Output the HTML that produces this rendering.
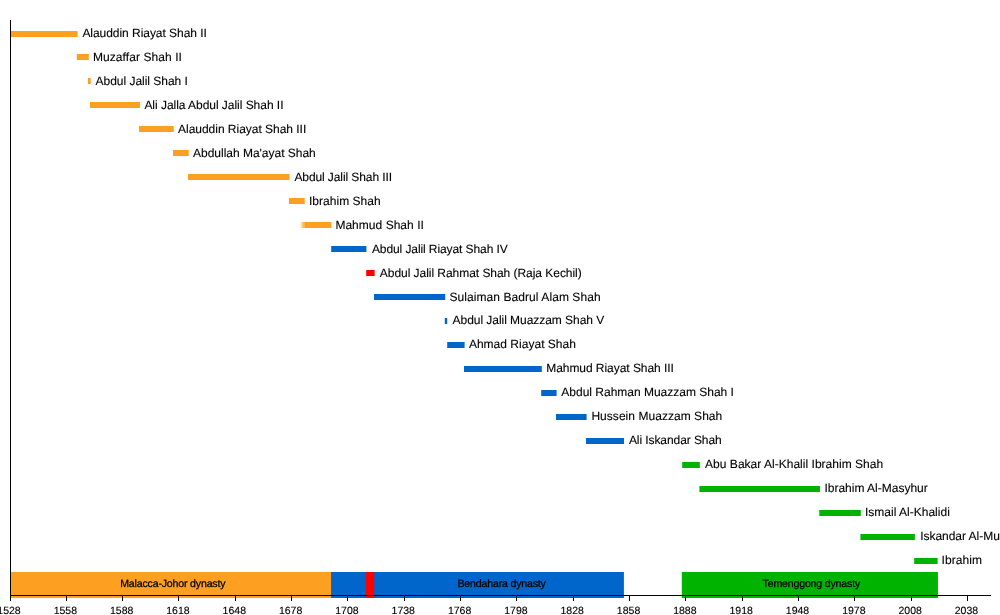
<!DOCTYPE html>
<html><head><meta charset="utf-8"><title>Sultans of Johor timeline</title>
<style>
html,body{margin:0;padding:0;background:#fff;}
body{width:1000px;height:615px;overflow:hidden;}
svg{display:block;will-change:transform;filter:blur(0.35px);}
text{font-family:"Liberation Sans",Arial,sans-serif;text-rendering:geometricPrecision;}
.l{font-size:12px;letter-spacing:0px;fill:#000;stroke:#000;stroke-width:0.12px;}
.t{font-size:10.5px;letter-spacing:0px;fill:#000;stroke:#000;stroke-width:0.12px;text-anchor:middle;}
.d{font-size:10.6px;letter-spacing:-0.18px;fill:#000;stroke:#000;stroke-width:0.25px;text-anchor:middle;}
</style></head><body>
<svg width="1000" height="615" viewBox="0 0 1000 615">
<defs><linearGradient id="fade" x1="0" x2="1" y1="0" y2="0">
<stop offset="0" stop-color="#FDA021" stop-opacity="0"/><stop offset="1" stop-color="#FDA021" stop-opacity="1"/></linearGradient></defs>

<rect x="10.00" y="572.00" width="321.04" height="26.00" fill="#FDA021"/>
<rect x="331.04" y="572.00" width="292.87" height="26.00" fill="#0066CC"/>
<rect x="366.01" y="572.00" width="8.21" height="26.00" fill="#FF0000"/>
<rect x="681.81" y="572.00" width="256.13" height="26.00" fill="#00B300"/>
<text class="d" x="172.8" y="587">Malacca-Johor dynasty</text>
<text class="d" x="501.6" y="587">Bendahara dynasty</text>
<text class="d" x="811.3" y="587">Temenggong dynasty</text>
<rect x="11.00" y="31.00" width="66.60" height="6.00" fill="#FDA021"/>
<text class="l" x="82.4" y="37.0" style="letter-spacing:-0.045px">Alauddin Riayat Shah II</text>
<rect x="76.80" y="54.00" width="12.00" height="6.00" fill="#FDA021"/>
<text class="l" x="92.9" y="60.8" style="letter-spacing:0.08px">Muzaffar Shah II</text>
<rect x="88.00" y="78.00" width="2.70" height="6.00" fill="#FDA021"/>
<text class="l" x="95.6" y="84.8" style="letter-spacing:-0.029px">Abdul Jalil Shah I</text>
<rect x="90.00" y="102.00" width="50.00" height="6.00" fill="#FDA021"/>
<text class="l" x="144.4" y="108.8" style="letter-spacing:-0.036px">Ali Jalla Abdul Jalil Shah II</text>
<rect x="139.00" y="126.00" width="34.75" height="6.00" fill="#FDA021"/>
<text class="l" x="178.0" y="132.8" style="letter-spacing:-0.022px">Alauddin Riayat Shah III</text>
<rect x="173.00" y="150.00" width="15.75" height="6.00" fill="#FDA021"/>
<text class="l" x="193.0" y="156.8" style="letter-spacing:-0.013px">Abdullah Ma'ayat Shah</text>
<rect x="188.00" y="174.00" width="101.50" height="6.00" fill="#FDA021"/>
<text class="l" x="294.4" y="180.8" style="letter-spacing:-0.092px">Abdul Jalil Shah III</text>
<rect x="289.00" y="198.00" width="15.75" height="6.00" fill="#FDA021"/>
<text class="l" x="309.0" y="204.8" style="letter-spacing:0.027px">Ibrahim Shah</text>
<rect x="299.75" y="222.00" width="5.00" height="6.00" fill="url(#fade)"/>
<rect x="304.75" y="222.00" width="26.65" height="6.00" fill="#FDA021"/>
<text class="l" x="335.4" y="228.8" style="letter-spacing:0.031px">Mahmud Shah II</text>
<rect x="331.20" y="246.00" width="35.20" height="6.00" fill="#0066CC"/>
<text class="l" x="371.9" y="252.8" style="letter-spacing:-0.088px">Abdul Jalil Riayat Shah IV</text>
<rect x="366.20" y="270.00" width="8.40" height="6.00" fill="#FF0000"/>
<text class="l" x="379.8" y="276.8" style="letter-spacing:-0.042px">Abdul Jalil Rahmat Shah (Raja Kechil)</text>
<rect x="374.00" y="294.00" width="71.20" height="6.00" fill="#0066CC"/>
<text class="l" x="449.4" y="300.8" style="letter-spacing:0.075px">Sulaiman Badrul Alam Shah</text>
<rect x="444.80" y="318.00" width="2.40" height="6.00" fill="#0066CC"/>
<text class="l" x="452.6" y="324.0" style="letter-spacing:-0.044px">Abdul Jalil Muazzam Shah V</text>
<rect x="447.20" y="342.00" width="17.40" height="6.00" fill="#0066CC"/>
<text class="l" x="468.9" y="348.0" style="letter-spacing:0.019px">Ahmad Riayat Shah</text>
<rect x="464.00" y="366.00" width="77.80" height="6.00" fill="#0066CC"/>
<text class="l" x="546.2" y="372.0" style="letter-spacing:-0.048px">Mahmud Riayat Shah III</text>
<rect x="541.20" y="390.00" width="15.40" height="6.00" fill="#0066CC"/>
<text class="l" x="561.3" y="396.0" style="letter-spacing:-0.004px">Abdul Rahman Muazzam Shah I</text>
<rect x="556.00" y="414.00" width="30.60" height="6.00" fill="#0066CC"/>
<text class="l" x="591.4" y="420.0" style="letter-spacing:0.042px">Hussein Muazzam Shah</text>
<rect x="586.00" y="438.00" width="38.00" height="6.00" fill="#0066CC"/>
<text class="l" x="628.9" y="444.0" style="letter-spacing:-0.075px">Ali Iskandar Shah</text>
<rect x="682.20" y="462.00" width="17.60" height="6.00" fill="#00B300"/>
<text class="l" x="705.1" y="468.0" style="letter-spacing:0.019px">Abu Bakar Al-Khalil Ibrahim Shah</text>
<rect x="699.40" y="486.00" width="120.60" height="6.00" fill="#00B300"/>
<text class="l" x="824.4" y="492.0" style="letter-spacing:0.0px">Ibrahim Al-Masyhur</text>
<rect x="819.30" y="510.00" width="41.50" height="6.00" fill="#00B300"/>
<text class="l" x="864.9" y="516.0" style="letter-spacing:0.013px">Ismail Al-Khalidi</text>
<rect x="860.40" y="534.00" width="54.50" height="6.00" fill="#00B300"/>
<text class="l" x="920.2" y="540.0" style="letter-spacing:-0.03px">Iskandar Al-Mutawakkil Alallah Shah</text>
<rect x="914.20" y="558.00" width="23.40" height="6.00" fill="#00B300"/>
<text class="l" x="941.5" y="564.0" style="letter-spacing:0.1px">Ibrahim</text>
<rect x="10" y="20" width="1" height="581" fill="#000"/>
<rect x="10" y="595" width="981" height="1" fill="#000"/>
<rect x="10" y="595" width="1" height="6" fill="#000"/>
<text class="t" x="9.00" y="614">1528</text>
<rect x="66" y="595" width="1" height="6" fill="#000"/>
<text class="t" x="65.32" y="614">1558</text>
<rect x="122" y="595" width="1" height="6" fill="#000"/>
<text class="t" x="121.64" y="614">1588</text>
<rect x="178" y="595" width="1" height="6" fill="#000"/>
<text class="t" x="177.97" y="614">1618</text>
<rect x="235" y="595" width="1" height="6" fill="#000"/>
<text class="t" x="234.29" y="614">1648</text>
<rect x="291" y="595" width="1" height="6" fill="#000"/>
<text class="t" x="290.61" y="614">1678</text>
<rect x="347" y="595" width="1" height="6" fill="#000"/>
<text class="t" x="346.93" y="614">1708</text>
<rect x="404" y="595" width="1" height="6" fill="#000"/>
<text class="t" x="403.25" y="614">1738</text>
<rect x="460" y="595" width="1" height="6" fill="#000"/>
<text class="t" x="459.58" y="614">1768</text>
<rect x="516" y="595" width="1" height="6" fill="#000"/>
<text class="t" x="515.90" y="614">1798</text>
<rect x="573" y="595" width="1" height="6" fill="#000"/>
<text class="t" x="572.22" y="614">1828</text>
<rect x="629" y="595" width="1" height="6" fill="#000"/>
<text class="t" x="628.54" y="614">1858</text>
<rect x="685" y="595" width="1" height="6" fill="#000"/>
<text class="t" x="684.86" y="614">1888</text>
<rect x="742" y="595" width="1" height="6" fill="#000"/>
<text class="t" x="741.19" y="614">1918</text>
<rect x="798" y="595" width="1" height="6" fill="#000"/>
<text class="t" x="797.51" y="614">1948</text>
<rect x="854" y="595" width="1" height="6" fill="#000"/>
<text class="t" x="853.83" y="614">1978</text>
<rect x="911" y="595" width="1" height="6" fill="#000"/>
<text class="t" x="910.15" y="614">2008</text>
<rect x="967" y="595" width="1" height="6" fill="#000"/>
<text class="t" x="966.47" y="614">2038</text>
</svg></body></html>
